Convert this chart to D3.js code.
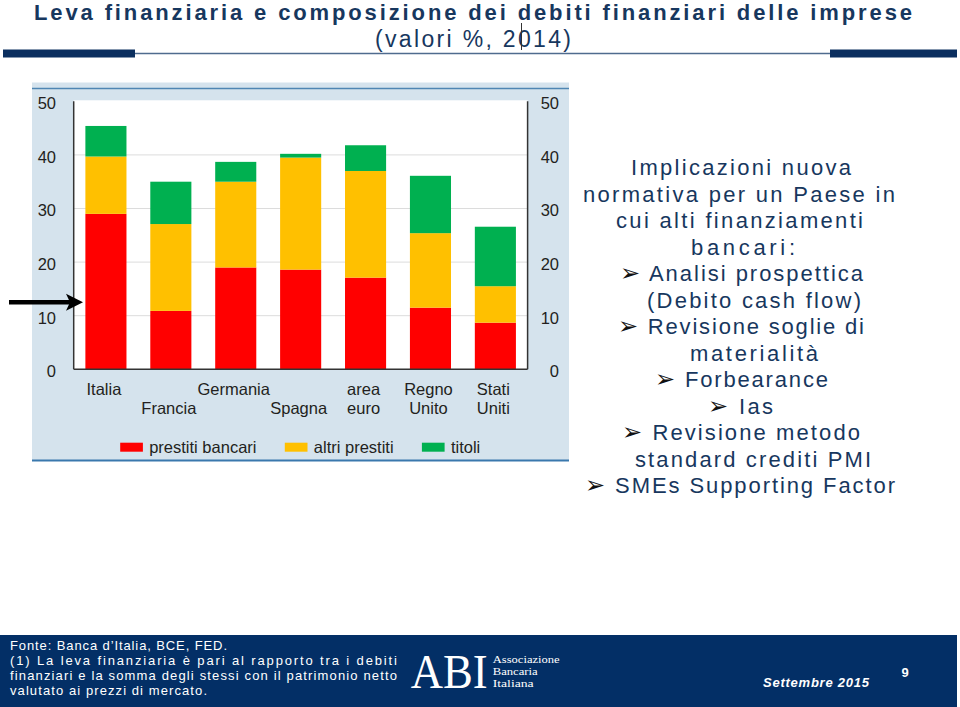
<!DOCTYPE html>
<html>
<head>
<meta charset="utf-8">
<script src="https://cdn.jsdelivr.net/npm/d3@7"></script>
<style>
  html, body { margin: 0; padding: 0; background: #ffffff; }
  svg { display: block; }
</style>
</head>
<body>
<svg id="chart" width="960" height="707"></svg>
<script>
// ---------- DATA ----------
const categories = ["Italia", "Francia", "Germania", "Spagna", "area euro", "Regno Unito", "Stati Uniti"];
const categoryLabelLines = [["Italia", ""], ["", "Francia"], ["Germania", ""], ["", "Spagna"], ["area", "euro"], ["Regno", "Unito"], ["Stati", "Uniti"]];
const prestitiBancari = [29.0, 10.9, 19.0, 18.6, 17.1, 11.5, 8.7];
const altriPrestiti   = [10.7, 16.2, 16.0, 20.9, 19.9, 13.9, 6.8];
const titoli          = [5.7, 7.9, 3.7, 0.7, 4.8, 10.7, 11.1];
const seriesNames = ["prestiti bancari", "altri prestiti", "titoli"];
const yTicks = [0, 10, 20, 30, 40, 50];

const titleText = "Leva finanziaria e composizione dei debiti finanziari delle imprese";
const subtitleText = "(valori %, 2014)";
const sideLines = [
  ["", "Implicazioni nuova"],
  ["", "normativa per un Paese in"],
  ["", "cui alti finanziamenti"],
  ["", "bancari:"],
  ["\u27A2", " Analisi prospettica"],
  ["", "(Debito cash flow)"],
  ["\u27A2", " Revisione soglie di"],
  ["", "materialità"],
  ["\u27A2", " Forbearance"],
  ["\u27A2", " Ias"],
  ["\u27A2", " Revisione metodo"],
  ["", "standard crediti PMI"],
  ["\u27A2", " SMEs Supporting Factor"]
];
const footerLines = [
  "Fonte: Banca d\u2019Italia, BCE, FED.",
  "(1) La leva finanziaria è pari al rapporto tra i debiti",
  "finanziari e la somma degli stessi con il patrimonio netto",
  "valutato ai prezzi di mercato."
];
const logoLines = ["Associazione", "Bancaria", "Italiana"];
const dateText = "Settembre 2015";
const pageNumber = "9";

// ---------- STYLE / LAYOUT ----------
const navy = "#17375e";
const colors = ["#ff0000", "#ffc000", "#00b050"];
const sans = "'Liberation Sans', Arial, Helvetica, sans-serif";
const serif = "'Liberation Serif', 'Times New Roman', serif";

const svg = d3.select("#chart");

// Title
svg.append("text").attr("x", 34).attr("y", 20)
  .attr("font-family", sans).attr("font-weight", "bold").attr("font-size", 22)
  .attr("fill", navy).attr("textLength", 878).attr("lengthAdjust", "spacing")
  .text(titleText);
svg.append("text").attr("x", 375).attr("y", 47)
  .attr("font-family", sans).attr("font-size", 23)
  .attr("fill", navy).attr("textLength", 196).attr("lengthAdjust", "spacing")
  .text(subtitleText);
// cursor-like mark in subtitle
svg.append("line").attr("x1", 521.5).attr("x2", 521.5).attr("y1", 23).attr("y2", 50)
  .attr("stroke", "#333").attr("stroke-width", 1);

// header rule
svg.append("line").attr("x1", 135).attr("x2", 830).attr("y1", 53.5).attr("y2", 53.5)
  .attr("stroke", "#4f6b8e").attr("stroke-width", 1.5);
svg.append("rect").attr("x", 3).attr("y", 49.5).attr("width", 132).attr("height", 8).attr("fill", "#0b2f5f");
svg.append("rect").attr("x", 830).attr("y", 49.5).attr("width", 127).attr("height", 8).attr("fill", "#0b2f5f");

// ---------- CHART PANEL ----------
svg.append("rect").attr("x", 32).attr("y", 82.5).attr("width", 537).attr("height", 378.5).attr("fill", "#d5e3ed");
svg.append("line").attr("x1", 32).attr("x2", 569).attr("y1", 88.5).attr("y2", 88.5)
  .attr("stroke", "#4f86b3").attr("stroke-width", 1.5);
svg.append("line").attr("x1", 32).attr("x2", 569).attr("y1", 460.5).attr("y2", 460.5)
  .attr("stroke", "#3a78ad").attr("stroke-width", 2);

const plotL = 73.7, plotR = 527.6, plotT = 101.3, plotB = 369.3;

const x = d3.scaleBand().domain(categories).range([plotL, plotR]).paddingInner(0.367).paddingOuter(0.18);
const y = d3.scaleLinear().domain([0, 50]).range([plotB, plotT]);

svg.append("rect").attr("x", plotL).attr("y", plotT - 1).attr("width", plotR - plotL).attr("height", plotB - plotT + 1).attr("fill", "#ffffff");

// gridlines
svg.append("g").selectAll("line").data(yTicks.filter(t => t > 0 && t < 50)).join("line")
  .attr("x1", plotL).attr("x2", plotR).attr("y1", d => y(d)).attr("y2", d => y(d))
  .attr("stroke", "#dcdcdc").attr("stroke-width", 1);

// stacked bars
const table = categories.map((c, i) => ({ cat: c, s0: prestitiBancari[i], s1: altriPrestiti[i], s2: titoli[i] }));
const stack = d3.stack().keys(["s0", "s1", "s2"]);
const stacked = stack(table);
svg.append("g").selectAll("g").data(stacked).join("g")
  .attr("fill", (d, i) => colors[i])
  .selectAll("rect").data(d => d).join("rect")
  .attr("x", d => x(d.data.cat))
  .attr("width", x.bandwidth())
  .attr("y", d => y(d[1]))
  .attr("height", d => y(d[0]) - y(d[1]));

// axes lines
const axisColor = "#333333";
svg.append("line").attr("x1", plotL).attr("x2", plotL).attr("y1", plotT).attr("y2", plotB).attr("stroke", axisColor).attr("stroke-width", 1.5);
svg.append("line").attr("x1", plotR).attr("x2", plotR).attr("y1", plotT).attr("y2", plotB).attr("stroke", axisColor).attr("stroke-width", 1.5);
svg.append("line").attr("x1", plotL).attr("x2", plotR).attr("y1", plotB).attr("y2", plotB).attr("stroke", axisColor).attr("stroke-width", 1.5);

// y tick labels (left and right)
const leftAxis = d3.axisLeft(y).tickValues(yTicks).tickSize(0).tickPadding(0);
const gL = svg.append("g").attr("transform", "translate(56,0)").call(leftAxis);
const rightAxis = d3.axisLeft(y).tickValues(yTicks).tickSize(0).tickPadding(0);
const gR = svg.append("g").attr("transform", "translate(559,0)").call(rightAxis);
[gL, gR].forEach(g => {
  g.select(".domain").remove();
  g.selectAll("text").attr("font-family", sans).attr("font-size", 16.5).attr("fill", "#231f20")
    .attr("dy", "0.45em");
});

// category labels
const catG = svg.append("g");
categories.forEach((c, i) => {
  categoryLabelLines[i].forEach((t, r) => {
    if (!t) return;
    catG.append("text")
      .attr("x", x(c) + x.bandwidth() / 2 - 2)
      .attr("y", r === 0 ? 395 : 414)
      .attr("text-anchor", "middle")
      .attr("font-family", sans).attr("font-size", 16.5).attr("fill", "#231f20")
      .text(t);
  });
});

// legend
const legendX = [120.2, 284.8, 421.9];
const lg = svg.append("g");
seriesNames.forEach((n, i) => {
  lg.append("rect").attr("x", legendX[i]).attr("y", 442.7).attr("width", 22.7).attr("height", 9).attr("fill", colors[i]);
  lg.append("text").attr("x", legendX[i] + 29).attr("y", 453)
    .attr("font-family", sans).attr("font-size", 16.5).attr("fill", "#231f20").text(n);
});

// arrow annotation
const arrowY = y(12.5);
svg.append("line").attr("x1", 9).attr("x2", 70).attr("y1", arrowY).attr("y2", arrowY)
  .attr("stroke", "#000").attr("stroke-width", 4.5);
svg.append("path").attr("d", `M83,${arrowY} L66,${arrowY - 8.5} L70,${arrowY} L66,${arrowY + 8.5} Z`).attr("fill", "#000");

// ---------- SIDE TEXT ----------
const sideExtents = [[631, 851], [583, 895], [616, 863], [691, 795], [620, 863], [647, 861], [618, 864],
                     [690, 818], [655, 828], [708, 773], [622, 860], [635, 871], [585, 895]];
sideLines.forEach((parts, i) => {
  const t = svg.append("text").attr("x", sideExtents[i][0]).attr("y", 175 + i * 26.5)
    .attr("font-family", sans).attr("font-size", 22).attr("fill", navy)
    .attr("textLength", sideExtents[i][1] - sideExtents[i][0]).attr("lengthAdjust", "spacing");
  if (parts[0]) {
    t.append("tspan").attr("font-family", "'DejaVu Sans', sans-serif").attr("font-size", 24).attr("fill", "#111").text(parts[0]);
  }
  t.append("tspan").text(parts[1]);
});

// ---------- FOOTER ----------
svg.append("rect").attr("x", 0).attr("y", 635).attr("width", 957).attr("height", 72).attr("fill", "#032f66");
const footerLen = [217, 387, 387, 197];
footerLines.forEach((t, i) => {
  svg.append("text").attr("x", 10).attr("y", 649.5 + i * 15)
    .attr("font-family", sans).attr("font-size", 13).attr("fill", "#ffffff")
    .attr("textLength", footerLen[i]).attr("lengthAdjust", "spacing")
    .text(t);
});
svg.append("text").attr("x", 410.7).attr("y", 687.7)
  .attr("font-family", serif).attr("font-size", 49).attr("fill", "#ffffff")
  .attr("textLength", 77).attr("lengthAdjust", "spacingAndGlyphs").text("ABI");
logoLines.forEach((t, i) => {
  svg.append("text").attr("x", 492.7).attr("y", 663.3 + i * 11.7)
    .attr("font-family", serif).attr("font-size", 10.5).attr("fill", "#ffffff")
    .attr("textLength", [67, 45, 41][i]).attr("lengthAdjust", "spacingAndGlyphs").text(t);
});
svg.append("text").attr("x", 763).attr("y", 687.3)
  .attr("font-family", sans).attr("font-weight", "bold").attr("font-style", "italic").attr("font-size", 13)
  .attr("fill", "#ffffff").attr("textLength", 106).attr("lengthAdjust", "spacing").text(dateText);
svg.append("text").attr("x", 901.5).attr("y", 677)
  .attr("font-family", sans).attr("font-weight", "bold").attr("font-size", 13)
  .attr("fill", "#ffffff").text(pageNumber);
</script>
</body>
</html>
